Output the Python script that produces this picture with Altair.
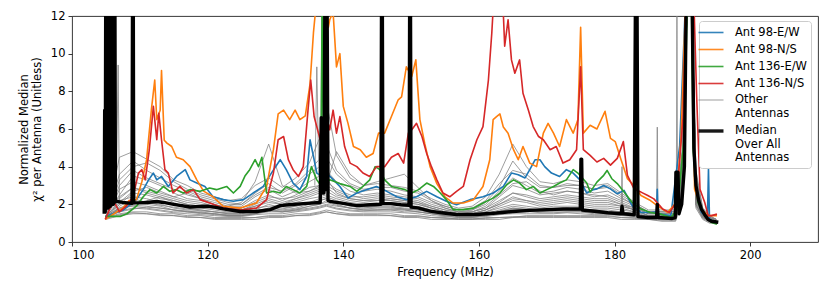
import altair as alt
import pandas as pd

# ---------------- data ----------------
series_names = ["Ant 98-E/W", "Ant 98-N/S", "Ant 136-E/W", "Ant 136-N/S",
                "Other Antennas", "Median Over All Antennas"]
series_colors = ["#1f77b4", "#ff7f0e", "#2ca02c", "#d62728", "#7f7f7f", "#000000"]
series_widths = [1.6, 1.6, 1.6, 1.6, 0.85, 3.4]

blue_f = [104.9, 106.0, 107.6, 109.5, 110.5, 111.3, 112.0, 112.5, 113.2, 114.2, 115.4, 116.7, 117.4, 118.4,
          119.6, 120.8, 122.3, 123.8, 125.3, 126.7, 128.2, 129.4, 130.7, 131.6, 132.6, 133.6, 134.6, 135.1,
          136.1, 136.8, 137.2, 137.6, 138.0, 139.5, 140.7, 142.0, 143.4, 144.9, 146.4, 147.9, 149.3, 150.8,
          152.3, 153.8, 155.2, 156.7, 158.7, 160.6, 162.1, 163.6, 164.8, 165.8, 166.8, 167.5, 168.3, 169.0,
          169.7, 170.7, 171.9, 172.9, 173.9, 174.9, 175.9, 176.9, 177.4, 178.4, 179.4, 180.4, 181.4, 182.6,
          183.9, 185.3, 186.2, 186.3, 186.4, 188.3, 189.6, 190.6, 191.3, 191.8, 192.8, 193.7, 193.85, 194.0,
          195.1]
blue_v = [1.36, 1.5, 1.7, 2.25, 2.78, 3.3, 3.66, 3.3, 3.48, 2.95, 3.48, 3.84, 3.3, 3.13,
          2.95, 2.4, 2.25, 2.16, 2.25, 2.6, 2.95, 3.66, 4.37, 3.84, 3.13, 2.78, 3.48, 5.43,
          3.66, 3.5, 6.0, 3.6, 3.5, 2.95, 2.33, 2.6, 2.78, 2.95, 2.69, 2.4, 2.25, 2.4,
          2.69, 2.4, 2.16, 1.98, 2.25, 2.4, 2.6, 2.95, 3.66, 3.57, 3.4, 3.84, 4.37, 4.37,
          4.0, 3.66, 3.48, 3.84, 3.66, 3.3, 2.6, 2.78, 2.82, 3.0, 2.82, 2.56, 2.74, 1.93,
          1.57, 1.57, 1.6, 2.8, 1.5, 1.4, 5.1, 14, 14, 3.5, 1.57, 1.3, 3.9, 1.2,
          1.03]

orange_f = [104.9, 106.2, 107.5, 108.4, 109.5, 110.3, 111.0, 111.7, 112.2, 112.5, 113.0, 113.2, 113.6, 114.0,
            114.7, 115.4, 116.4, 117.4, 118.4, 119.4, 120.8, 122.3, 124.8, 127.2, 128.7, 129.7, 130.4, 131.2,
            132.1, 132.9, 133.6, 134.4, 135.1, 135.6, 136.1, 136.6, 137.2, 137.8, 138.0, 138.5, 139.0, 139.5,
            140.0, 140.7, 141.5, 142.5, 143.4, 144.4, 145.2, 146.1, 147.1, 148.1, 148.6, 149.3, 150.1, 150.7,
            151.3, 152.0, 152.8, 153.8, 155.0, 156.2, 157.7, 159.2, 160.6, 161.6, 162.1, 162.6, 163.1, 163.6,
            164.3, 165.1, 165.8, 166.5, 167.5, 168.5, 169.5, 170.2, 171.0, 171.9, 172.9, 173.9, 174.6, 175.0,
            175.4, 176.4, 177.4, 178.6, 179.4, 180.1, 180.9, 181.9, 182.6, 183.9, 185.3, 186.3, 187.8, 189.1,
            189.8, 190.6, 191.3, 191.8, 192.8, 193.8, 195.1]
orange_v = [1.2, 1.5, 1.8, 2.2, 2.25, 3.2, 4.37, 7.0, 8.6, 6.5, 7.0, 9.1, 5.4, 5.25,
            5.07, 4.5, 4.37, 4.0, 3.3, 2.7, 2.4, 1.9, 1.8, 2.07, 2.95, 4.9, 6.8, 7.0,
            6.5, 7.0, 6.5, 6.7, 8.4, 11.1, 13, 14, 13, 11.4, 11.8, 12.2, 9.3, 10.0,
            7.2, 6.3, 5.07, 4.9, 4.5, 4.7, 5.78, 5.78, 6.66, 7.55, 7.7, 9.3, 8.8, 9.67,
            6.5, 5.25, 4.0, 3.1, 2.4, 2.07, 2.07, 2.25, 2.95, 4.37, 6.5, 6.66, 6.8, 6.1,
            5.78, 4.9, 4.37, 5.07, 4.19, 4.0, 5.78, 6.3, 5.78, 5.07, 6.5, 5.78, 6.5, 11.4,
            5.78, 6.2, 6.0, 6.94, 5.5, 5.33, 4.44, 3.36, 3.1, 2.47, 2.2, 1.93, 1.57, 2.1,
            5.5, 14, 14, 2.8, 1.75, 1.4, 1.4]

green_f = [104.9, 107.1, 108.1, 109.5, 110.5, 111.5, 112.5, 113.5, 114.4, 115.4, 116.4, 117.4, 118.9, 120.3,
           121.3, 122.8, 123.8, 124.8, 125.5, 126.2, 127.0, 127.5, 128.0, 128.7, 129.7, 130.7, 131.6, 132.6,
           133.6, 134.6, 135.3, 136.1, 136.7, 136.9, 137.1, 138.0, 139.5, 141.0, 142.0, 142.9, 143.9, 144.7,
           145.4, 146.1, 147.1, 148.1, 149.1, 150.1, 151.1, 152.3, 153.3, 154.3, 155.2, 156.2, 157.7, 159.2,
           160.6, 162.1, 163.1, 164.1, 165.1, 166.0, 167.0, 168.0, 169.0, 170.0, 171.0, 171.9, 172.9, 173.9,
           174.6, 175.9, 176.4, 177.4, 178.4, 178.9, 179.6, 180.4, 181.4, 182.6, 183.9, 185.3, 186.8, 188.3,
           189.3, 190.3, 190.8, 191.3, 191.6, 192.3, 193.3, 194.3, 195.1]
green_v = [1.36, 1.36, 1.5, 1.9, 2.4, 2.78, 2.6, 2.95, 2.69, 2.78, 2.6, 2.78, 2.69, 2.87,
           2.78, 2.95, 2.6, 2.95, 3.5, 3.84, 4.37, 4.0, 4.5, 2.6, 2.69, 2.6, 2.95, 2.78,
           2.6, 2.95, 4.0, 3.3, 3.0, 14, 3.0, 3.3, 3.1, 2.95, 2.69, 2.95, 3.3, 4.0,
           3.84, 3.3, 2.95, 2.87, 2.78, 2.6, 2.78, 3.13, 2.95, 2.6, 2.25, 1.72, 1.72, 1.8,
           2.07, 2.33, 2.6, 3.04, 3.3, 3.13, 2.78, 2.95, 2.6, 2.78, 2.95, 3.13, 3.3, 3.84,
           3.66, 3.13, 2.65, 3.18, 3.54, 3.8, 3.36, 3.1, 2.65, 2.1, 1.75, 1.57, 1.48, 1.3,
           1.75, 5.7, 14, 14, 4.8, 2.1, 1.4, 1.03, 0.95]

red_f = [104.9, 106.1, 107.0, 108.0, 109.0, 109.8, 110.3, 110.8, 111.4, 112.0, 112.5, 112.8, 113.2, 113.7,
         114.2, 114.9, 115.9, 116.9, 117.9, 118.9, 120.3, 122.3, 124.8, 127.2, 128.7, 129.7, 130.4, 131.2,
         131.9, 132.6, 133.4, 134.1, 134.8, 135.2, 135.7, 136.6, 137.3, 138.0, 138.5, 139.0, 139.5, 140.2,
         141.0, 142.0, 142.9, 143.9, 144.9, 146.1, 147.1, 148.1, 148.9, 149.6, 150.1, 150.8, 151.6, 152.3,
         153.0, 153.8, 154.7, 155.7, 156.7, 157.7, 158.7, 159.7, 160.6, 161.4, 161.9, 162.2, 163.0, 163.5,
         163.8, 164.3, 164.8, 165.3, 166.0, 166.5, 167.3, 168.0, 168.8, 169.5, 170.5, 171.4, 172.4, 173.4,
         174.4, 175.0, 175.4, 176.4, 177.4, 178.4, 179.4, 180.4, 181.3, 181.9, 182.9, 183.9, 184.9, 185.8,
         187.1, 188.1, 189.1, 190.1, 190.6, 191.6, 192.1, 192.6, 193.3, 193.8, 194.3, 195.1]
red_v = [1.2, 2.2, 1.6, 1.9, 2.4, 3.66, 3.84, 3.3, 4.9, 7.2, 5.43, 6.84, 5.43, 3.84,
         3.66, 2.6, 2.95, 2.6, 2.78, 2.25, 2.07, 1.8, 1.7, 1.8, 2.25, 3.66, 5.43, 5.6,
         4.37, 3.84, 3.48, 4.0, 7.0, 8.6, 6.66, 5.43, 7.0, 5.96, 7.0, 5.78, 6.66, 5.07,
         4.19, 4.0, 3.66, 3.48, 4.0, 4.0, 4.5, 4.7, 4.19, 5.78, 5.96, 6.3, 5.6, 4.7,
         4.0, 3.3, 2.6, 2.4, 2.69, 2.95, 4.37, 5.43, 6.13, 8.6, 11.1, 13, 14, 13,
         10.4, 11.8, 9.67, 8.96, 9.67, 7.9, 7.0, 6.13, 5.6, 5.43, 4.9, 5.07, 4.19, 4.37,
         4.9, 9.3, 4.9, 4.6, 4.25, 4.44, 4.08, 4.44, 5.33, 3.54, 2.8, 2.65, 2.47, 2.29,
         1.75, 1.57, 2.1, 6.6, 14, 14, 7.8, 2.8, 2.1, 1.4, 1.4, 1.48]

median_f = [104.75, 104.82, 104.9, 104.98, 105.05, 105.12, 105.2, 105.27, 105.35, 105.42, 105.5, 105.57,
            105.65, 105.72, 105.8, 105.87, 105.95, 106.02, 106.1, 106.17, 106.25, 106.32, 106.4, 106.6,
            107.5, 108.85, 108.93, 109.03, 109.1, 110.0, 111.0, 112.5, 113.5, 115.0, 117.4, 119.9, 121.0,
            122.3, 124.8, 127.2, 129.2, 130.7, 132.0, 134.1, 136.6, 136.75, 136.9, 137.05, 137.15, 137.3,
            137.45, 137.6, 137.75, 138.0, 140.0, 142.0, 144.0, 145.55, 145.65, 145.75, 145.85, 147.0, 148.5,
            149.7, 149.8, 149.9, 150.0, 151.0, 152.8, 154.5, 156.7, 159.7, 161.0, 162.6, 165.0, 167.5,
            170.0, 172.4, 174.95, 175.05, 175.15, 175.25, 177.4, 179.0, 181.0, 181.1, 181.25, 182.9, 183.1,
            183.3, 183.45, 185.0, 186.2, 186.3, 186.42, 188.5, 188.95, 189.05, 189.35, 189.5, 189.9, 190.3,
            190.6, 191.4, 191.7, 192.0, 192.4, 192.8, 193.3, 193.8, 194.3, 195.3]
median_v = [1.5, 7.0, 1.6, 14, 1.8, 14, 1.9, 14, 1.8, 14, 2.0, 14,
            1.9, 14, 2.0, 14, 2.1, 14, 2.0, 14, 2.1, 14, 2.16, 2.16,
            2.1, 2.05, 14, 14, 2.08, 2.08, 2.1, 2.15, 2.1, 2.0, 1.86, 1.9, 1.85,
            1.76, 1.62, 1.62, 1.72, 1.93, 1.98, 2.04, 2.1, 6.6, 2.6, 6.6, 2.6, 14,
            2.8, 14, 2.2, 2.16, 2.05, 1.93, 1.98, 2.0, 14, 14, 2.04, 2.04, 1.98,
            1.95, 14, 14, 1.85, 1.81, 1.64, 1.55, 1.46, 1.46, 1.5, 1.54, 1.62, 1.68,
            1.72, 1.75, 1.75, 4.4, 4.4, 1.7, 1.62, 1.55, 1.5, 1.9, 1.5, 1.45, 14,
            14, 1.35, 1.3, 1.3, 2.0, 1.3, 1.25, 1.3, 3.7, 3.7, 1.5, 2.0, 4.0,
            14, 14, 5.0, 3.0, 2.2, 1.75, 1.45, 1.2, 1.1, 1.05]

# other antennas, sampled on a common frequency grid
gray_f = [105, 106, 107, 109, 111, 113, 115, 117, 119, 121, 123, 125, 127, 129, 131, 133, 135, 136.5,
          137.5, 139, 141, 143, 145, 147, 149, 151, 153, 155, 157, 159, 161, 163, 165, 167, 169, 171,
          173, 175, 177, 179, 181, 183, 185, 187, 189, 190, 190.8, 191.3, 192, 193, 194, 195]
gray_lines = [
    [1.3, 1.4, 1.5, 1.6, 1.6, 1.5, 1.5, 1.4, 1.4, 1.3, 1.3, 1.3, 1.3, 1.4, 1.4, 1.5, 1.5, 1.6, 1.7, 1.6, 1.5, 1.5, 1.5, 1.5, 1.4, 1.4, 1.3, 1.3, 1.2, 1.2, 1.3, 1.3, 1.3, 1.4, 1.4, 1.4, 1.4, 1.4, 1.4, 1.4, 1.3, 1.3, 1.2, 1.2, 1.2, 2.5, 14, 14, 2.0, 1.3, 1.1, 1.0],
    [1.4, 1.6, 1.8, 1.9, 1.8, 1.7, 1.6, 1.6, 1.5, 1.5, 1.4, 1.4, 1.5, 1.6, 1.6, 1.7, 1.8, 1.9, 2.0, 1.9, 1.8, 1.7, 1.7, 1.7, 1.6, 1.6, 1.5, 1.4, 1.4, 1.4, 1.4, 1.5, 1.6, 1.6, 1.6, 1.6, 1.6, 1.6, 1.5, 1.5, 1.5, 1.4, 1.3, 1.3, 1.3, 3.0, 14, 14, 2.3, 1.4, 1.2, 1.1],
    [1.5, 1.8, 2.2, 2.4, 2.3, 2.1, 2.0, 1.9, 1.8, 1.7, 1.6, 1.6, 1.8, 1.9, 1.9, 2.1, 2.3, 2.4, 2.5, 2.3, 2.1, 2.0, 2.1, 2.0, 1.9, 1.9, 1.7, 1.6, 1.5, 1.5, 1.6, 1.8, 2.0, 1.9, 1.8, 1.9, 1.9, 1.9, 1.8, 1.8, 1.7, 1.6, 1.4, 1.4, 1.4, 3.5, 14, 14, 2.6, 1.5, 1.2, 1.1],
    [1.6, 2.0, 2.8, 3.2, 3.0, 2.7, 2.4, 2.2, 2.1, 1.9, 1.8, 1.8, 2.2, 2.5, 2.2, 2.5, 2.9, 3.0, 3.2, 2.8, 2.5, 2.3, 2.4, 2.3, 2.2, 2.1, 1.9, 1.7, 1.6, 1.6, 1.8, 2.2, 2.6, 2.4, 2.2, 2.3, 2.4, 2.3, 2.2, 2.2, 2.0, 1.8, 1.5, 1.5, 1.5, 4.0, 14, 14, 3.0, 1.6, 1.3, 1.2],
    [1.7, 2.4, 3.6, 4.3, 3.8, 3.4, 3.0, 2.7, 2.4, 2.2, 2.0, 2.0, 2.6, 3.1, 2.6, 3.0, 3.6, 4.0, 4.5, 3.6, 3.0, 2.7, 2.8, 2.7, 2.5, 2.4, 2.1, 1.9, 1.7, 1.7, 2.0, 2.7, 3.4, 3.0, 2.6, 2.7, 2.9, 2.8, 2.6, 2.7, 2.3, 2.0, 1.6, 1.6, 1.6, 4.5, 14, 14, 3.4, 1.7, 1.3, 1.2],
    [1.8, 2.8, 4.5, 4.8, 4.4, 4.0, 3.3, 3.0, 2.6, 2.4, 2.2, 2.3, 3.0, 3.4, 2.9, 3.4, 4.2, 5.5, 7.5, 4.6, 3.4, 3.0, 3.1, 3.0, 2.9, 2.7, 2.3, 2.0, 1.8, 1.9, 2.4, 3.6, 5.2, 4.0, 3.2, 3.1, 3.3, 3.2, 3.0, 3.1, 2.6, 2.1, 1.7, 1.7, 1.7, 5.0, 14, 14, 3.8, 1.8, 1.4, 1.2],
    [1.4, 1.7, 2.3, 2.9, 2.7, 2.5, 2.3, 2.1, 2.0, 1.9, 1.9, 2.1, 3.2, 5.2, 3.0, 2.6, 2.7, 3.0, 3.4, 2.6, 2.3, 2.2, 2.2, 2.3, 2.2, 2.1, 1.8, 1.6, 1.5, 1.5, 1.7, 2.0, 2.4, 2.2, 2.0, 2.1, 2.2, 2.1, 2.0, 2.0, 1.9, 1.7, 1.4, 1.4, 1.4, 3.8, 14, 14, 2.8, 1.5, 1.2, 1.1],
    [1.3, 1.5, 1.7, 2.0, 2.2, 2.4, 2.1, 1.8, 1.7, 1.6, 1.5, 1.5, 1.6, 1.8, 1.7, 1.8, 2.0, 2.2, 2.3, 2.1, 1.9, 1.8, 1.9, 2.1, 2.0, 1.8, 1.6, 1.5, 1.4, 1.4, 1.5, 1.7, 1.9, 1.8, 1.7, 1.7, 1.8, 1.7, 1.7, 1.6, 1.6, 1.5, 1.3, 1.3, 1.3, 2.8, 14, 14, 2.2, 1.4, 1.1, 1.0],
    [1.5, 1.9, 2.5, 3.5, 3.3, 3.0, 2.6, 2.3, 2.2, 2.0, 1.8, 1.7, 2.0, 2.3, 2.1, 2.3, 2.6, 2.8, 3.0, 4.8, 3.6, 3.0, 3.2, 3.4, 3.6, 2.9, 2.2, 1.8, 1.6, 1.6, 1.8, 2.4, 3.0, 2.8, 2.5, 2.6, 2.7, 2.6, 2.5, 2.4, 2.1, 1.8, 1.5, 1.5, 1.5, 4.2, 14, 14, 3.2, 1.6, 1.3, 1.1],
    [1.4, 1.6, 2.0, 2.6, 2.5, 2.3, 2.2, 2.0, 1.9, 1.8, 1.7, 1.7, 1.9, 2.1, 2.0, 2.2, 2.4, 2.6, 2.7, 2.4, 2.2, 2.1, 2.2, 2.2, 2.1, 2.0, 1.8, 1.6, 1.5, 1.5, 1.7, 2.1, 2.6, 2.5, 2.3, 2.4, 2.5, 2.4, 2.3, 2.3, 2.0, 1.7, 1.4, 1.4, 1.4, 3.6, 14, 14, 2.7, 1.5, 1.2, 1.1],
    [1.3, 1.5, 1.9, 2.3, 2.1, 2.0, 1.8, 1.7, 1.7, 1.6, 1.5, 1.5, 1.7, 2.0, 1.8, 1.9, 2.1, 2.3, 2.4, 2.2, 2.0, 1.9, 1.9, 1.9, 1.8, 1.8, 1.6, 1.5, 1.4, 1.4, 1.6, 1.9, 2.2, 2.1, 1.9, 2.0, 2.1, 2.0, 1.9, 1.9, 1.8, 1.6, 1.3, 1.3, 1.3, 3.2, 14, 14, 2.4, 1.4, 1.2, 1.0],
    [1.5, 2.1, 3.0, 3.8, 3.4, 3.1, 2.8, 2.5, 2.3, 2.1, 1.9, 1.9, 2.4, 2.8, 2.4, 2.7, 3.2, 3.5, 3.8, 3.2, 2.7, 2.5, 2.6, 2.5, 2.4, 2.3, 2.0, 1.8, 1.6, 1.7, 2.1, 2.9, 4.3, 3.4, 2.9, 2.9, 3.1, 3.0, 2.8, 2.9, 2.4, 1.9, 1.6, 1.6, 1.6, 4.4, 14, 14, 3.5, 1.7, 1.3, 1.2],
    [1.2, 1.3, 1.4, 1.5, 1.5, 1.4, 1.4, 1.3, 1.3, 1.2, 1.2, 1.2, 1.2, 1.3, 1.3, 1.4, 1.4, 1.5, 1.6, 1.5, 1.4, 1.4, 1.4, 1.4, 1.3, 1.3, 1.2, 1.2, 1.2, 1.2, 1.2, 1.2, 1.3, 1.3, 1.3, 1.3, 1.3, 1.3, 1.3, 1.3, 1.2, 1.2, 1.2, 1.1, 1.1, 2.2, 14, 14, 1.8, 1.2, 1.0, 1.0],
    [1.4, 1.7, 2.1, 2.7, 2.9, 2.6, 2.4, 2.6, 2.3, 2.0, 1.8, 1.8, 2.1, 2.4, 2.3, 2.4, 2.7, 2.9, 3.0, 2.7, 2.4, 2.4, 2.5, 2.4, 2.3, 2.2, 1.9, 1.7, 1.5, 1.6, 1.9, 2.5, 3.1, 3.2, 2.7, 2.5, 2.7, 2.6, 2.4, 2.5, 2.2, 1.9, 1.5, 1.5, 1.5, 4.0, 14, 14, 3.0, 1.6, 1.3, 1.1],
    [1.6, 2.2, 3.3, 4.0, 4.2, 3.8, 3.2, 2.8, 2.5, 2.3, 2.1, 2.0, 2.5, 2.9, 2.7, 3.1, 3.8, 4.4, 5.2, 3.8, 3.1, 2.8, 2.9, 2.9, 2.7, 2.6, 2.2, 1.9, 1.7, 1.8, 2.2, 3.1, 3.8, 3.6, 3.0, 2.9, 3.0, 3.0, 2.8, 3.0, 2.5, 2.0, 1.6, 1.6, 1.6, 4.8, 14, 14, 3.6, 1.8, 1.4, 1.2],
    [1.3, 1.5, 1.8, 2.1, 2.0, 1.9, 1.7, 1.6, 1.6, 1.5, 1.4, 1.4, 1.5, 1.7, 1.6, 1.7, 1.9, 2.0, 2.2, 2.0, 1.8, 1.7, 1.7, 1.7, 1.7, 1.6, 1.5, 1.4, 1.3, 1.3, 1.4, 1.6, 1.8, 1.7, 1.6, 1.7, 1.7, 1.7, 1.6, 1.6, 1.5, 1.4, 1.3, 1.2, 1.2, 2.8, 14, 14, 2.0, 1.3, 1.1, 1.0],
    [1.25, 1.35, 1.45, 1.55, 1.5, 1.45, 1.4, 1.35, 1.3, 1.25, 1.25, 1.25, 1.3, 1.35, 1.35, 1.4, 1.45, 1.55, 1.6, 1.5, 1.45, 1.45, 1.45, 1.4, 1.35, 1.35, 1.3, 1.25, 1.25, 1.25, 1.25, 1.3, 1.35, 1.35, 1.35, 1.35, 1.35, 1.35, 1.35, 1.35, 1.3, 1.25, 1.2, 1.15, 1.15, 2.4, 14, 14, 1.9, 1.25, 1.05, 1.0],
    [1.35, 1.5, 1.65, 1.8, 1.75, 1.65, 1.55, 1.5, 1.45, 1.4, 1.35, 1.35, 1.45, 1.5, 1.5, 1.6, 1.7, 1.8, 1.9, 1.75, 1.65, 1.6, 1.6, 1.6, 1.55, 1.5, 1.4, 1.35, 1.3, 1.3, 1.35, 1.45, 1.5, 1.5, 1.5, 1.5, 1.55, 1.5, 1.45, 1.45, 1.4, 1.35, 1.25, 1.25, 1.25, 2.7, 14, 14, 2.1, 1.35, 1.15, 1.05],
    [1.45, 1.7, 2.0, 2.2, 2.1, 1.95, 1.85, 1.75, 1.65, 1.6, 1.55, 1.55, 1.65, 1.8, 1.75, 1.9, 2.05, 2.2, 2.3, 2.1, 1.95, 1.85, 1.85, 1.85, 1.75, 1.7, 1.6, 1.5, 1.45, 1.45, 1.5, 1.65, 1.8, 1.75, 1.7, 1.75, 1.75, 1.75, 1.7, 1.7, 1.6, 1.5, 1.35, 1.35, 1.35, 3.1, 14, 14, 2.4, 1.45, 1.2, 1.05],
    [1.3, 1.45, 1.6, 1.75, 1.85, 1.8, 1.7, 1.6, 1.55, 1.45, 1.4, 1.4, 1.5, 1.65, 1.6, 1.65, 1.75, 1.85, 1.95, 1.8, 1.7, 1.65, 1.7, 1.75, 1.7, 1.6, 1.5, 1.4, 1.35, 1.35, 1.4, 1.55, 1.7, 1.65, 1.55, 1.55, 1.6, 1.6, 1.55, 1.5, 1.45, 1.4, 1.3, 1.25, 1.25, 2.6, 14, 14, 2.0, 1.35, 1.1, 1.0],
    [1.5, 1.9, 2.4, 2.9, 2.6, 2.4, 2.2, 2.0, 1.9, 1.8, 1.7, 1.7, 1.9, 2.2, 2.0, 2.3, 2.5, 2.7, 2.9, 2.5, 2.3, 2.2, 2.3, 2.2, 2.1, 2.0, 1.8, 1.6, 1.5, 1.5, 1.7, 2.0, 2.3, 2.2, 2.1, 2.2, 2.3, 2.2, 2.1, 2.1, 1.9, 1.7, 1.4, 1.4, 1.4, 3.4, 14, 14, 2.6, 1.5, 1.2, 1.1],
    [1.35, 1.55, 1.75, 1.95, 1.9, 1.8, 1.7, 1.65, 1.55, 1.5, 1.45, 1.45, 1.55, 1.7, 1.65, 1.75, 1.9, 2.0, 2.1, 1.95, 1.8, 1.75, 1.8, 1.8, 1.75, 1.7, 1.55, 1.45, 1.4, 1.4, 1.45, 1.6, 1.75, 1.7, 1.65, 1.65, 1.7, 1.65, 1.6, 1.6, 1.55, 1.45, 1.3, 1.3, 1.3, 2.9, 14, 14, 2.2, 1.4, 1.15, 1.05],
]
# narrow single-antenna spikes of other antennas
spike_id = ["s1", "s1", "s1", "s2", "s2", "s2", "s3", "s3", "s3", "s4", "s4", "s4",
            "s5", "s5", "s5", "s6", "s6", "s6", "s7", "s7", "s7"]
spike_f = [106.5, 106.8, 107.0, 135.8, 136.1, 136.4, 136.6, 136.9, 137.2, 137.2, 137.6, 137.9,
           181.0, 181.1, 181.2, 186.2, 186.3, 186.4, 189.1, 189.2, 189.3]
spike_v = [1.8, 9.4, 2.0, 3.0, 9.3, 3.5, 2.5, 14, 3.0, 2.8, 14, 2.6,
           1.8, 4.0, 1.8, 1.5, 6.1, 1.5, 1.5, 12.5, 1.6]

x_ticks = [100, 120, 140, 160, 180, 200]
y_ticks = [0, 2, 4, 6, 8, 10, 12]

# ---------------- tables ----------------
gray_rows = []
for i, vals in enumerate(gray_lines):
    for f, v in zip(gray_f, vals):
        gray_rows.append({"freq": f, "value": v, "series": "Other Antennas", "line": f"g{i}"})
for sid, f, v in zip(spike_id, spike_f, spike_v):
    gray_rows.append({"freq": f, "value": v, "series": "Other Antennas", "line": sid})
gray_df = pd.DataFrame(gray_rows)

col_rows = []
for name, fs, vs in [("Ant 98-E/W", blue_f, blue_v), ("Ant 98-N/S", orange_f, orange_v),
                     ("Ant 136-E/W", green_f, green_v), ("Ant 136-N/S", red_f, red_v)]:
    for f, v in zip(fs, vs):
        col_rows.append({"freq": f, "value": v, "series": name, "line": name})
col_df = pd.DataFrame(col_rows)

med_df = pd.DataFrame({"freq": median_f, "value": median_v,
                       "series": "Median Over All Antennas", "line": "median"})

FONT = "DejaVu Sans"
label_expr = ("datum.label == 'Other Antennas' ? ['Other', 'Antennas'] : "
              "datum.label == 'Median Over All Antennas' ? ['Median', 'Over All', 'Antennas'] : datum.label")

legend = alt.Legend(title=None, orient="none", legendX=627, legendY=5,
                    labelExpr=label_expr, labelFont=FONT, labelFontSize=11.5, labelColor="#000",
                    symbolType="M-2,0H2", symbolSize=156, labelOffset=16, rowPadding=4,
                    padding=4, strokeColor="#cccccc", fillColor="rgba(255,255,255,0.85)",
                    cornerRadius=3, labelLimit=200)

x_enc = alt.X("freq:Q", scale=alt.Scale(domain=[100, 210], nice=False, zero=False),
              axis=alt.Axis(values=x_ticks, title="Frequency (MHz)", format="d"))
y_enc = alt.Y("value:Q", scale=alt.Scale(domain=[0, 12], nice=False),
              axis=alt.Axis(values=y_ticks, title=["Normalized Median", "χ² per Antenna (Unitless)"]))
color_enc = alt.Color("series:N", scale=alt.Scale(domain=series_names, range=series_colors), legend=legend)
width_enc = alt.StrokeWidth("series:N",
                            scale=alt.Scale(type="ordinal", domain=series_names, range=series_widths),
                            legend=legend)


def layer(df, opacity):
    return alt.Chart(df).mark_line(clip=True, strokeJoin="round", opacity=opacity).encode(
        x=x_enc, y=y_enc, color=color_enc, strokeWidth=width_enc, detail="line:N",
        order="freq:Q")


chart = alt.layer(layer(gray_df, 0.9), layer(col_df, 1.0), layer(med_df, 1.0)).properties(
    width=746, height=226,
    autosize=alt.AutoSizeParams(type="none"),
    padding={"left": 64, "top": 8, "right": 4, "bottom": 37},
).configure_view(stroke="#222", strokeWidth=0.9).configure_axis(
    domain=False, grid=False, ticks=True, tickColor="#222", tickSize=4, tickWidth=0.9,
    labelFont=FONT, labelFontSize=11.5, labelColor="#000", labelPadding=3,
    titleFont=FONT, titleFontSize=11.5, titleFontWeight="normal", titleColor="#000",
).configure_axisY(titlePadding=8, titleLineHeight=13).configure_axisX(titlePadding=6)

chart.save("out.html", embed_options={"renderer": "svg", "actions": False})
